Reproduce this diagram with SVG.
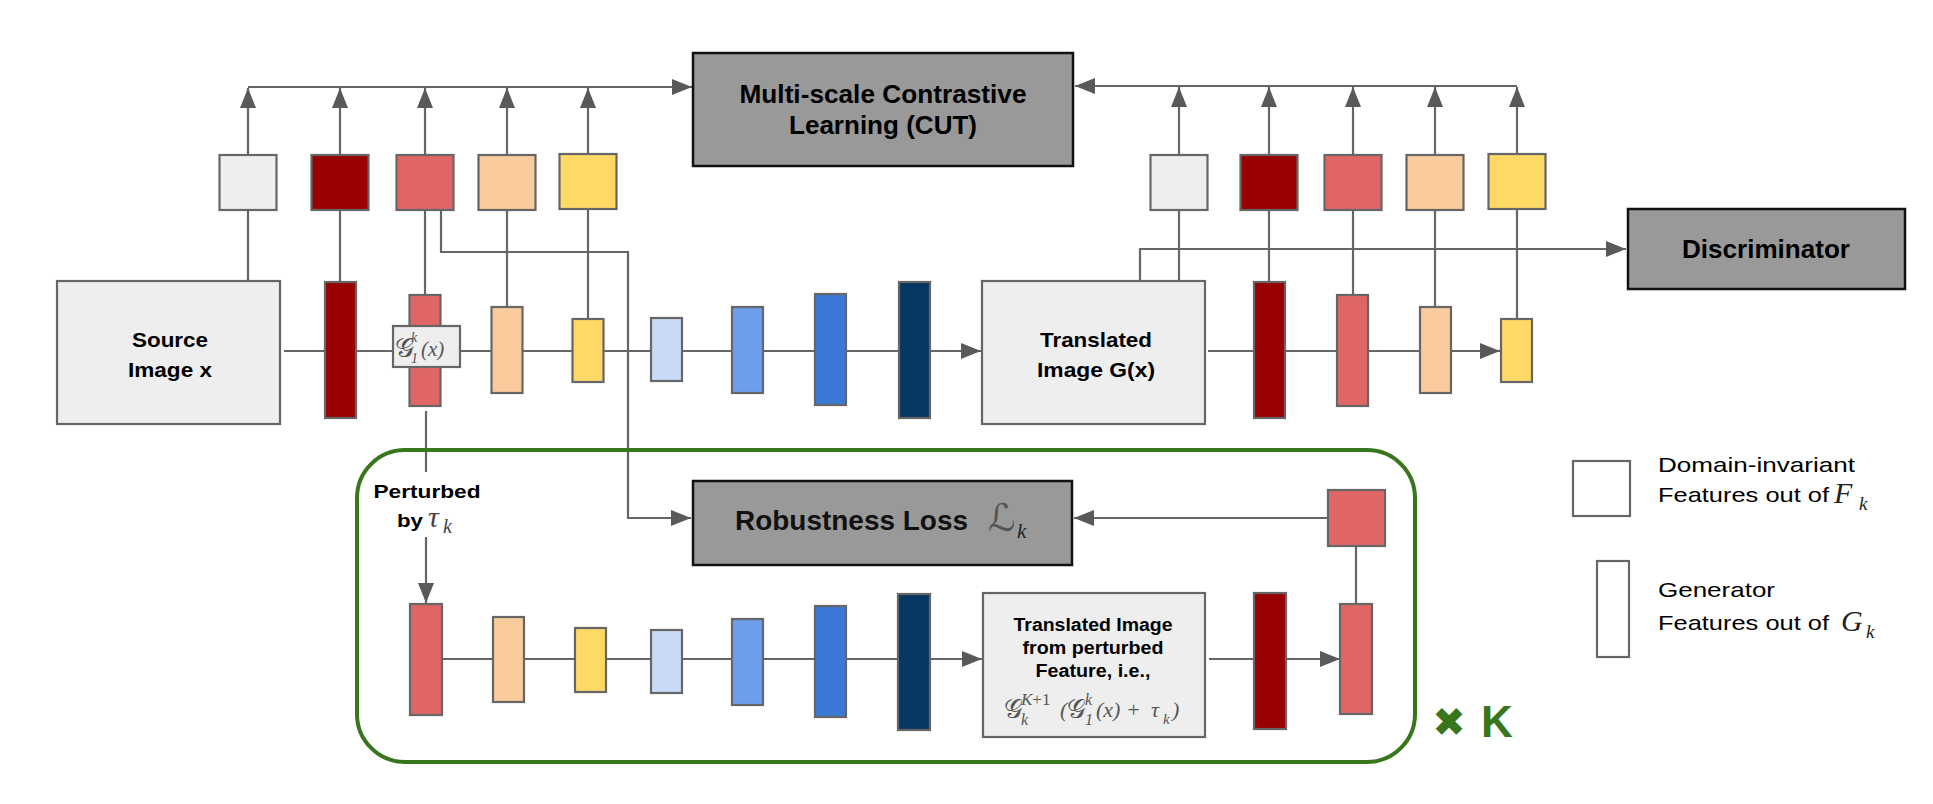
<svg xmlns="http://www.w3.org/2000/svg" width="1933" height="804" viewBox="0 0 1933 804">
<style>
.ln{fill:none;stroke:#666;stroke-width:2.2}
.ft{stroke:#666;stroke-width:2.2}
.lg{fill:#eeeeee}
.dr{fill:#990000}
.rd{fill:#e06666}
.pc{fill:#f9cb9c}
.yl{fill:#ffd966}
.lb{fill:#c9daf8}
.mb{fill:#6d9eeb}
.bl{fill:#3c78d8}
.nv{fill:#073763}
.gb{fill:#999999;stroke:#111;stroke-width:2.5}
.box{fill:#eeeeee;stroke:#666;stroke-width:2.2}
.bt{font-family:"Liberation Sans",Arial,sans-serif;font-weight:bold;fill:#000;text-anchor:middle}
.rt{font-family:"Liberation Sans",Arial,sans-serif;fill:#000}
.mt{font-family:"Liberation Serif","DejaVu Serif",serif;font-style:italic;fill:#555}
.sc{font-family:"DejaVu Serif","DejaVu Sans","Noto Sans",serif;fill:#555}
</style>
<defs>
<marker id="ah" markerUnits="userSpaceOnUse" markerWidth="20" markerHeight="16" refX="20" refY="8" orient="auto">
<path d="M0,0 L20,8 L0,16 z" fill="#595959"/>
</marker>
</defs>
<rect width="1933" height="804" fill="#fff"/>

<g id="connectors">
<path class="ln" d="M284,351 H899"/>
<path class="ln" d="M930,351 H981" marker-end="url(#ah)"/>
<path class="ln" d="M1208,351 H1500" marker-end="url(#ah)"/>
<path class="ln" d="M248,281 V88" marker-end="url(#ah)"/>
<path class="ln" d="M340,282 V88" marker-end="url(#ah)"/>
<path class="ln" d="M425,295 V88" marker-end="url(#ah)"/>
<path class="ln" d="M507,307 V88" marker-end="url(#ah)"/>
<path class="ln" d="M588,319 V88" marker-end="url(#ah)"/>
<path class="ln" d="M248,87 H692" marker-end="url(#ah)"/>
<path class="ln" d="M1179,281 V87" marker-end="url(#ah)"/>
<path class="ln" d="M1269,282 V87" marker-end="url(#ah)"/>
<path class="ln" d="M1353,295 V87" marker-end="url(#ah)"/>
<path class="ln" d="M1435,307 V87" marker-end="url(#ah)"/>
<path class="ln" d="M1517,319 V87" marker-end="url(#ah)"/>
<path class="ln" d="M1517,86 H1075" marker-end="url(#ah)"/>
<path class="ln" d="M1140,281 V249 H1626" marker-end="url(#ah)"/>
<path class="ln" d="M441,210 V252 H628 V518 H691" marker-end="url(#ah)"/>
<path class="ln" d="M426,411 V472"/>
<path class="ln" d="M426,537 V603" marker-end="url(#ah)"/>
<path class="ln" d="M442,659 H898"/>
<path class="ln" d="M930,659 H982" marker-end="url(#ah)"/>
<path class="ln" d="M1209,659 H1340" marker-end="url(#ah)"/>
<path class="ln" d="M1356,604 V546"/>
<path class="ln" d="M1327,518 H1074" marker-end="url(#ah)"/>
</g>

<g id="repeat-frame">
<rect x="357" y="450" width="1058" height="312" rx="48" ry="48" fill="none" stroke="#38761d" stroke-width="4"/>
<text x="1449" y="736" font-family="DejaVu Sans,sans-serif" font-size="40" fill="#38761d" text-anchor="middle">✖</text>
<text x="1481" y="737" font-family="Liberation Sans,Arial,sans-serif" font-weight="bold" font-size="44" fill="#38761d">K</text>
</g>

<g id="cut">
<rect class="gb" x="693" y="53" width="380" height="113"/>
<text class="bt" x="883" y="103" font-size="25" textLength="287" lengthAdjust="spacingAndGlyphs">Multi-scale Contrastive</text>
<text class="bt" x="883" y="134" font-size="25" textLength="188" lengthAdjust="spacingAndGlyphs">Learning (CUT)</text>
</g>

<g id="discriminator">
<rect class="gb" x="1628" y="209" width="277" height="80"/>
<text class="bt" x="1766" y="258" font-size="25" textLength="168" lengthAdjust="spacingAndGlyphs">Discriminator</text>
</g>

<g id="source">
<rect class="box" x="57" y="281" width="223" height="143"/>
<text class="bt" x="170" y="347" font-size="21" textLength="76" lengthAdjust="spacingAndGlyphs">Source</text>
<text class="bt" x="170" y="377" font-size="21" textLength="84" lengthAdjust="spacingAndGlyphs">Image x</text>
</g>

<g id="translated">
<rect class="box" x="982" y="281" width="223" height="143"/>
<text class="bt" x="1096" y="347" font-size="21" textLength="112" lengthAdjust="spacingAndGlyphs">Translated</text>
<text class="bt" x="1096" y="377" font-size="21" textLength="118" lengthAdjust="spacingAndGlyphs">Image G(x)</text>
</g>

<g id="top-features-left">
<rect class="ft lg" x="219.5" y="155" width="57" height="55"/>
<rect class="ft dr" x="311.5" y="155" width="57" height="55"/>
<rect class="ft rd" x="396.5" y="155" width="57" height="55"/>
<rect class="ft pc" x="478.5" y="155" width="57" height="55"/>
<rect class="ft yl" x="559.5" y="154" width="57" height="55"/>
</g>

<g id="top-features-right">
<rect class="ft lg" x="1150.5" y="155" width="57" height="55"/>
<rect class="ft dr" x="1240.5" y="155" width="57" height="55"/>
<rect class="ft rd" x="1324.5" y="155" width="57" height="55"/>
<rect class="ft pc" x="1406.5" y="155" width="57" height="55"/>
<rect class="ft yl" x="1488.5" y="154" width="57" height="55"/>
</g>

<g id="generator-main">
<rect class="ft dr" x="325" y="282" width="31" height="136"/>
<rect class="ft rd" x="409.5" y="295" width="31" height="111"/>
<rect class="ft pc" x="491.5" y="307" width="31" height="86"/>
<rect class="ft yl" x="572.5" y="319" width="31" height="63"/>
<rect class="ft lb" x="651" y="318" width="31" height="63"/>
<rect class="ft mb" x="732" y="307" width="31" height="86"/>
<rect class="ft bl" x="815" y="294" width="31" height="111"/>
<rect class="ft nv" x="899" y="282" width="31" height="136"/>
</g>

<g id="g1-label">
<rect x="393" y="326" width="67" height="41" fill="#eeeeee" stroke="#666" stroke-width="2.2"/>
<text class="sc" x="395" y="357" font-size="27">𝒢</text>
<text class="mt" x="411" y="342" font-size="14">k</text>
<text class="mt" x="411" y="363" font-size="14" font-style="normal">1</text>
<text class="mt" x="421" y="356" font-size="21" font-style="normal">(<tspan font-style="italic">x</tspan>)</text>
</g>

<g id="generator-right">
<rect class="ft dr" x="1254" y="282" width="31" height="136"/>
<rect class="ft rd" x="1337" y="295" width="31" height="111"/>
<rect class="ft pc" x="1420" y="307" width="31" height="86"/>
<rect class="ft yl" x="1501" y="319" width="31" height="63"/>
</g>

<g id="perturbed-label">
<text class="bt" x="427" y="498" font-size="19" textLength="107" lengthAdjust="spacingAndGlyphs">Perturbed</text>
<text class="bt" x="410" y="527" font-size="19" textLength="26" lengthAdjust="spacingAndGlyphs">by</text>
<text x="428" y="527" font-family="Liberation Serif,serif" font-style="italic" font-size="30" fill="#444">τ</text>
<text x="443" y="533" font-family="Liberation Serif,serif" font-style="italic" font-size="20" fill="#444">k</text>
</g>

<g id="robustness-loss">
<rect class="gb" x="693" y="481" width="379" height="84"/>
<text x="735" y="530" font-family="Liberation Sans,Arial,sans-serif" font-weight="bold" font-size="27" fill="#111" textLength="233" lengthAdjust="spacingAndGlyphs">Robustness Loss</text>
<text class="sc" x="988" y="531" font-size="38" fill="#222">ℒ</text>
<text x="1017" y="538" font-family="Liberation Serif,serif" font-style="italic" font-size="21" fill="#222">k</text>
</g>

<g id="generator-perturbed">
<rect class="ft rd" x="410" y="604" width="32" height="111"/>
<rect class="ft pc" x="493" y="617" width="31" height="85"/>
<rect class="ft yl" x="575" y="628" width="31" height="64"/>
<rect class="ft lb" x="651" y="630" width="31" height="63"/>
<rect class="ft mb" x="732" y="619" width="31" height="86"/>
<rect class="ft bl" x="815" y="606" width="31" height="111"/>
<rect class="ft nv" x="898" y="594" width="32" height="136"/>
</g>

<g id="translated-perturbed">
<rect class="box" x="983" y="593" width="222" height="144"/>
<text class="bt" x="1093" y="631" font-size="18" textLength="159" lengthAdjust="spacingAndGlyphs">Translated Image</text>
<text class="bt" x="1093" y="654" font-size="18" textLength="141" lengthAdjust="spacingAndGlyphs">from perturbed</text>
<text class="bt" x="1093" y="677" font-size="18" textLength="115" lengthAdjust="spacingAndGlyphs">Feature, i.e.,</text>
<text class="sc" x="1004" y="718" font-size="26">𝒢</text>
<text class="mt" x="1021" y="705" font-size="17">K<tspan font-style="normal">+1</tspan></text>
<text class="mt" x="1021" y="725" font-size="16">k</text>
<text class="mt" x="1060" y="717" font-size="22" font-style="normal">(</text>
<text class="sc" x="1067" y="718" font-size="26">𝒢</text>
<text class="mt" x="1085" y="705" font-size="16">k</text>
<text class="mt" x="1085" y="725" font-size="16" font-style="normal">1</text>
<text class="mt" x="1096" y="717" font-size="22" font-style="normal">(<tspan font-style="italic">x</tspan>) +</text>
<text class="mt" x="1151" y="717" font-size="22">τ</text>
<text class="mt" x="1163" y="724" font-size="15">k</text>
<text class="mt" x="1172" y="717" font-size="22" font-style="normal">)</text>
</g>

<g id="feedback-feature">
<rect class="ft dr" x="1254" y="593" width="32" height="136"/>
<rect class="ft rd" x="1340" y="604" width="32" height="110"/>
<rect class="ft rd" x="1328" y="490" width="57" height="56"/>
</g>

<g id="legend">
<rect x="1573" y="461" width="57" height="55" fill="#fff" stroke="#666" stroke-width="2.2"/>
<text class="rt" x="1658" y="472" font-size="21" textLength="197" lengthAdjust="spacingAndGlyphs">Domain-invariant</text>
<text class="rt" x="1658" y="502" font-size="21" textLength="171" lengthAdjust="spacingAndGlyphs">Features out of</text>
<text x="1834" y="503" font-family="Liberation Serif,serif" font-style="italic" font-size="30" fill="#222">F</text>
<text x="1859" y="510" font-family="Liberation Serif,serif" font-style="italic" font-size="19" fill="#222">k</text>
<rect x="1597" y="561" width="32" height="96" fill="#fff" stroke="#666" stroke-width="2.2"/>
<text class="rt" x="1658" y="597" font-size="21" textLength="117" lengthAdjust="spacingAndGlyphs">Generator</text>
<text class="rt" x="1658" y="630" font-size="21" textLength="171" lengthAdjust="spacingAndGlyphs">Features out of</text>
<text x="1841" y="631" font-family="Liberation Serif,serif" font-style="italic" font-size="30" fill="#222">G</text>
<text x="1866" y="638" font-family="Liberation Serif,serif" font-style="italic" font-size="19" fill="#222">k</text>
</g>
</svg>
